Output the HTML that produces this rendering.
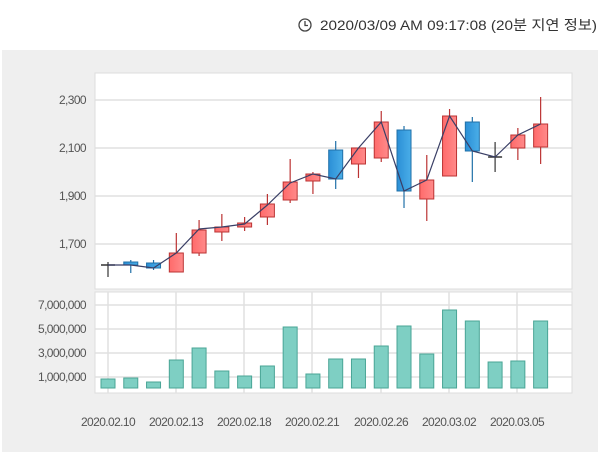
<!DOCTYPE html>
<html><head><meta charset="utf-8"><style>
body{margin:0;width:600px;height:452px;background:#fff;overflow:hidden;font-family:"Liberation Sans","Noto Sans CJK KR",sans-serif}
</style></head><body>
<svg width="600" height="452" xmlns="http://www.w3.org/2000/svg" font-family="Liberation Sans, Noto Sans CJK KR, sans-serif">
<defs>
<linearGradient id="r" x1="0" x2="1"><stop offset="0" stop-color="#ff6b6b"/><stop offset="1" stop-color="#ff8a8a"/></linearGradient>
<linearGradient id="b" x1="0" x2="1"><stop offset="0" stop-color="#2b8fd6"/><stop offset="1" stop-color="#4aaee8"/></linearGradient>
</defs>
<circle cx="305" cy="25" r="6" fill="none" stroke="#444" stroke-width="1.3"/>
<path d="M305 21v4.5h3" fill="none" stroke="#444" stroke-width="1.3"/>
<text x="597" y="30" text-anchor="end" font-size="14" fill="#333" textLength="277" lengthAdjust="spacingAndGlyphs">2020/03/09 AM 09:17:08 (20분 지연 정보)</text>
<rect x="2" y="50" width="596" height="402" fill="#efefef"/>
<rect x="95" y="73" width="477" height="216" fill="#fff" stroke="#ddd"/>
<rect x="95" y="292" width="477" height="101" fill="#fff" stroke="#ddd"/>
<g stroke="#e0e0e0" stroke-width="1.5">
<line x1="95" x2="572" y1="100" y2="100"/><line x1="95" x2="572" y1="148" y2="148"/><line x1="95" x2="572" y1="196" y2="196"/><line x1="95" x2="572" y1="244" y2="244"/>
<line x1="95" x2="572" y1="305" y2="305"/><line x1="95" x2="572" y1="329" y2="329"/><line x1="95" x2="572" y1="353" y2="353"/><line x1="95" x2="572" y1="377" y2="377"/>
<line x1="108" x2="108" y1="292" y2="393"/><line x1="176" x2="176" y1="292" y2="393"/><line x1="244" x2="244" y1="292" y2="393"/><line x1="312" x2="312" y1="292" y2="393"/><line x1="381" x2="381" y1="292" y2="393"/><line x1="449" x2="449" y1="292" y2="393"/><line x1="517" x2="517" y1="292" y2="393"/>
</g>
<g font-size="12" fill="#555" text-anchor="end" letter-spacing="-0.6">
<text x="86" y="104">2,300</text><text x="86" y="152">2,100</text><text x="86" y="200">1,900</text><text x="86" y="248">1,700</text>
<text x="86" y="309">7,000,000</text><text x="86" y="333">5,000,000</text><text x="86" y="357">3,000,000</text><text x="86" y="381">1,000,000</text>
</g>
<g font-size="12" fill="#555" text-anchor="middle" letter-spacing="-0.6">
<text x="108" y="426">2020.02.10</text><text x="176" y="426">2020.02.13</text><text x="244" y="426">2020.02.18</text><text x="312" y="426">2020.02.21</text><text x="381" y="426">2020.02.26</text><text x="449" y="426">2020.03.02</text><text x="517" y="426">2020.03.05</text>
</g>
<g id="c"></g>
<g id="v"></g>
<polyline id="ln" fill="none" stroke="#3a3f66" stroke-width="1.2"/>
<script>
var C=[[265,265,262,277,'d'],[262,265,260,273,'b'],[263,268,260,270,'b'],[253,272,233,272,'r'],[230,253,220,256,'r'],[227,232,214,241,'r'],[223,227,217,231,'r'],[204,217,194,225,'r'],[182,200,159,203,'r'],[174,181,172,194,'r'],[150,179,141,189,'b'],[148,164,148,178,'r'],[122,158,111,162,'r'],[130,191,126,208,'b'],[180,199,155,221,'r'],[116,176,109,176,'r'],[122,151,117,182,'b'],[157,157,142,172,'d'],[135,148,128,160,'r'],[124,147,97,164,'r']];
var L=[265,265,268,253,229,227,224,205,183,174,179,148,122,191,180,116,151,157,135,124];
var V=[379,378,382,360,348,371,376,366,327,374,359,359,346,326,354,310,321,362,361,321];
var ns="http://www.w3.org/2000/svg",g=document.getElementById('c'),gv=document.getElementById('v'),pts=[];
function el(p,t,a){var e=document.createElementNS(ns,t);for(var k in a)e.setAttribute(k,a[k]);p.appendChild(e);return e;}
C.forEach(function(c,i){var x=108+22.77*i;var col=c[4]=='r'?'#b33':c[4]=='b'?'#2070a8':'#333';
el(g,'line',{x1:x,x2:x,y1:c[2],y2:c[3],stroke:col,'stroke-width':1.2});
if(c[4]=='d')el(g,'line',{x1:x-7,x2:x+7,y1:c[0],y2:c[0],stroke:col,'stroke-width':1.5});
else el(g,'rect',{x:x-7,y:c[0],width:14,height:Math.max(c[1]-c[0],2),fill:c[4]=='r'?'url(#r)':'url(#b)',stroke:col,'stroke-width':1});
pts.push(x+','+L[i]);
el(gv,'rect',{x:x-7,y:V[i],width:14,height:388-V[i],fill:'#7ecfc3',stroke:'#4aa596','stroke-width':1});});
document.getElementById('ln').setAttribute('points',pts.join(' '));
</script>
</svg>
</body></html>
